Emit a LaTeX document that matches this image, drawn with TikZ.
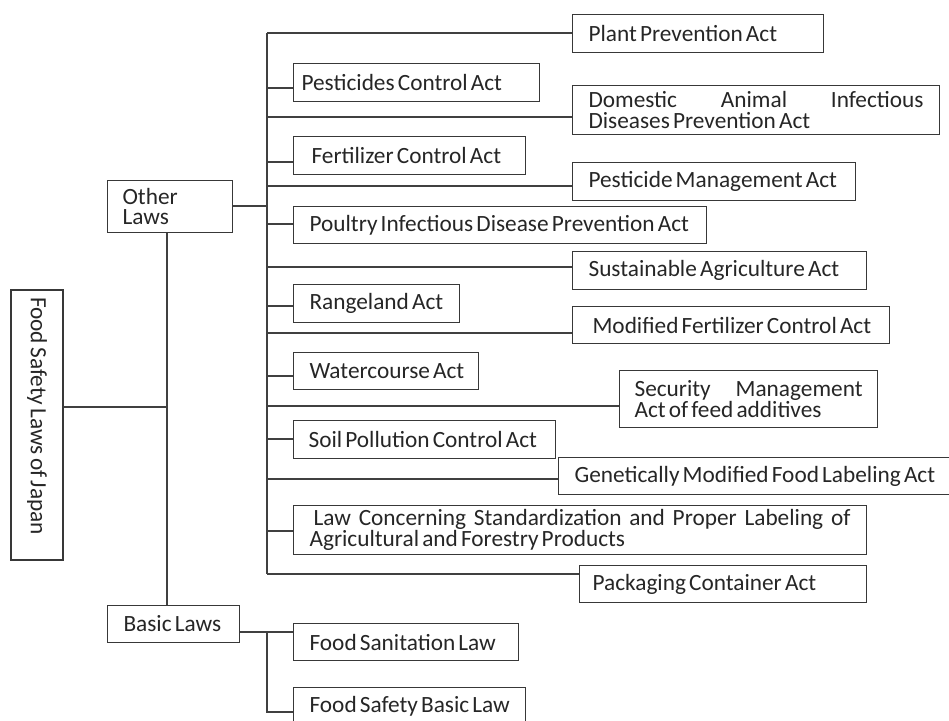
\documentclass[tikz,border=0pt]{standalone}
\usepackage{fontspec}
\setmainfont{Carlito}[WordSpace=0.6]
\definecolor{linegray}{HTML}{404040}
\definecolor{boxgray}{HTML}{383838}
\tikzset{
  lawbox/.style={
    draw=boxgray,
    line width=1.1pt,
    anchor=north west,
    align=flush left,
    inner ysep=0pt,
    inner xsep=16pt,
    minimum height=38pt,
    font=\fontsize{23.3}{20.5}\selectfont,
    text=black!85
  },
  longlaw/.style={lawbox, align=justify},
  link/.style={draw=linegray, line width=1.1pt}
}

\begin{document}
\begin{tikzpicture}[x=1pt, y=-1pt]
\useasboundingbox (0,0) rectangle (949,720);

% Root and the two groups
\node[lawbox, anchor=center, rotate=-90, minimum width=270pt, minimum height=52pt, inner xsep=7pt, text width=256pt] (root) at (37,425) {\mbox{Food Safety Laws of Japan}};
\node[lawbox, minimum height=52pt, inner xsep=15pt, text width=95pt] (other) at (107,180) {Other\\Laws};
\node[lawbox, minimum height=37pt, text width=100pt] (basic) at (107,605) {\mbox{Basic Laws}};

% Other laws, left column
\node[lawbox, inner xsep=8pt, text width=230pt] (pest) at (293,63) {\mbox{Pesticides Control Act}};
\node[lawbox, inner xsep=18pt, text width=196pt] (fert) at (293,136) {\mbox{Fertilizer Control Act}};
\node[lawbox, minimum height=37pt, text width=381pt] (poultry) at (293,206) {\mbox{Poultry Infectious Disease Prevention Act}};
\node[lawbox, text width=134pt] (range) at (293,284) {\mbox{Rangeland Act}};
\node[lawbox, minimum height=37pt, text width=153pt] (water) at (293,352) {\mbox{Watercourse Act}};
\node[lawbox, inner xsep=15pt, text width=232pt] (soil) at (293,420) {\mbox{Soil Pollution Control Act}};
\node[longlaw, minimum height=49pt, text width=541pt] (jas) at (293,505) {\hspace{4pt}Law Concerning Standardization and Proper Labeling of\linebreak Agricultural and Forestry Products};

% Other laws, right column
\node[lawbox, text width=219pt] (plant) at (572,14) {\mbox{Plant Prevention Act}};
\node[longlaw, minimum height=49pt, text width=335pt] (domestic) at (572,85) {Domestic Animal Infectious\linebreak Diseases Prevention Act};
\node[lawbox, text width=251pt] (pestmgmt) at (572,162) {\mbox{Pesticide Management Act}};
\node[lawbox, text width=262pt] (sustain) at (572,251) {\mbox{Sustainable Agriculture Act}};
\node[lawbox, minimum height=37pt, inner xsep=20pt, text width=277pt] (modfert) at (572,306) {\mbox{Modified Fertilizer Control Act}};
\node[longlaw, minimum height=57pt, inner xsep=15pt, text width=228pt] (feed) at (619,370) {Security Management\linebreak Act of feed additives};
\node[lawbox, minimum height=37pt, text width=370pt] (gmfood) at (558,457) {\mbox{Genetically Modified Food Labeling Act}};
\node[lawbox, minimum height=37pt, inner xsep=13pt, text width=261pt] (packing) at (579,565) {\mbox{Packaging Container Act}};

% Basic laws
\node[lawbox, minimum height=37pt, text width=193pt] (sanitation) at (293,623) {\mbox{Food Sanitation Law}};
\node[lawbox, minimum height=37pt, text width=200pt] (safetybasic) at (293,687) {\mbox{Food Safety Basic Law}};

% Tree lines
\coordinate (split) at (167,407);
\coordinate (trunktop) at (267,33);
\coordinate (trunkbot) at (267,574);
\coordinate (subtop) at (267,632);

\draw[link] (root.north |- split) -- (split);
\draw[link] (other.south -| split) -- (basic.north -| split);
\draw[link] (other.east |- 0,206) -- (trunktop |- 0,206);
\draw[link] (trunktop) -- (trunkbot);

\draw[link] (trunktop) -- (plant.west |- trunktop);
\draw[link] (trunktop |- 0,88) -- (pest.west |- 0,88);
\draw[link] (trunktop |- 0,117) -- (domestic.west |- 0,117);
\draw[link] (trunktop |- 0,162) -- (fert.west |- 0,162);
\draw[link] (trunktop |- 0,186) -- (pestmgmt.west |- 0,186);
\draw[link] (trunktop |- 0,224) -- (poultry.west |- 0,224);
\draw[link] (trunktop |- 0,267) -- (sustain.west |- 0,267);
\draw[link] (trunktop |- 0,306) -- (range.west |- 0,306);
\draw[link] (trunktop |- 0,333) -- (modfert.west |- 0,333);
\draw[link] (trunktop |- 0,376) -- (water.west |- 0,376);
\draw[link] (trunktop |- 0,406) -- (feed.west |- 0,406);
\draw[link] (trunktop |- 0,439) -- (soil.west |- 0,439);
\draw[link] (trunktop |- 0,479) -- (gmfood.west |- 0,479);
\draw[link] (trunktop |- 0,531) -- (jas.west |- 0,531);
\draw[link] (trunkbot) -- (packing.west |- trunkbot);

\draw[link] (basic.east |- subtop) -- (sanitation.west |- subtop);
\draw[link] (subtop) |- (safetybasic.west |- 0,712);

\end{tikzpicture}
\end{document}
